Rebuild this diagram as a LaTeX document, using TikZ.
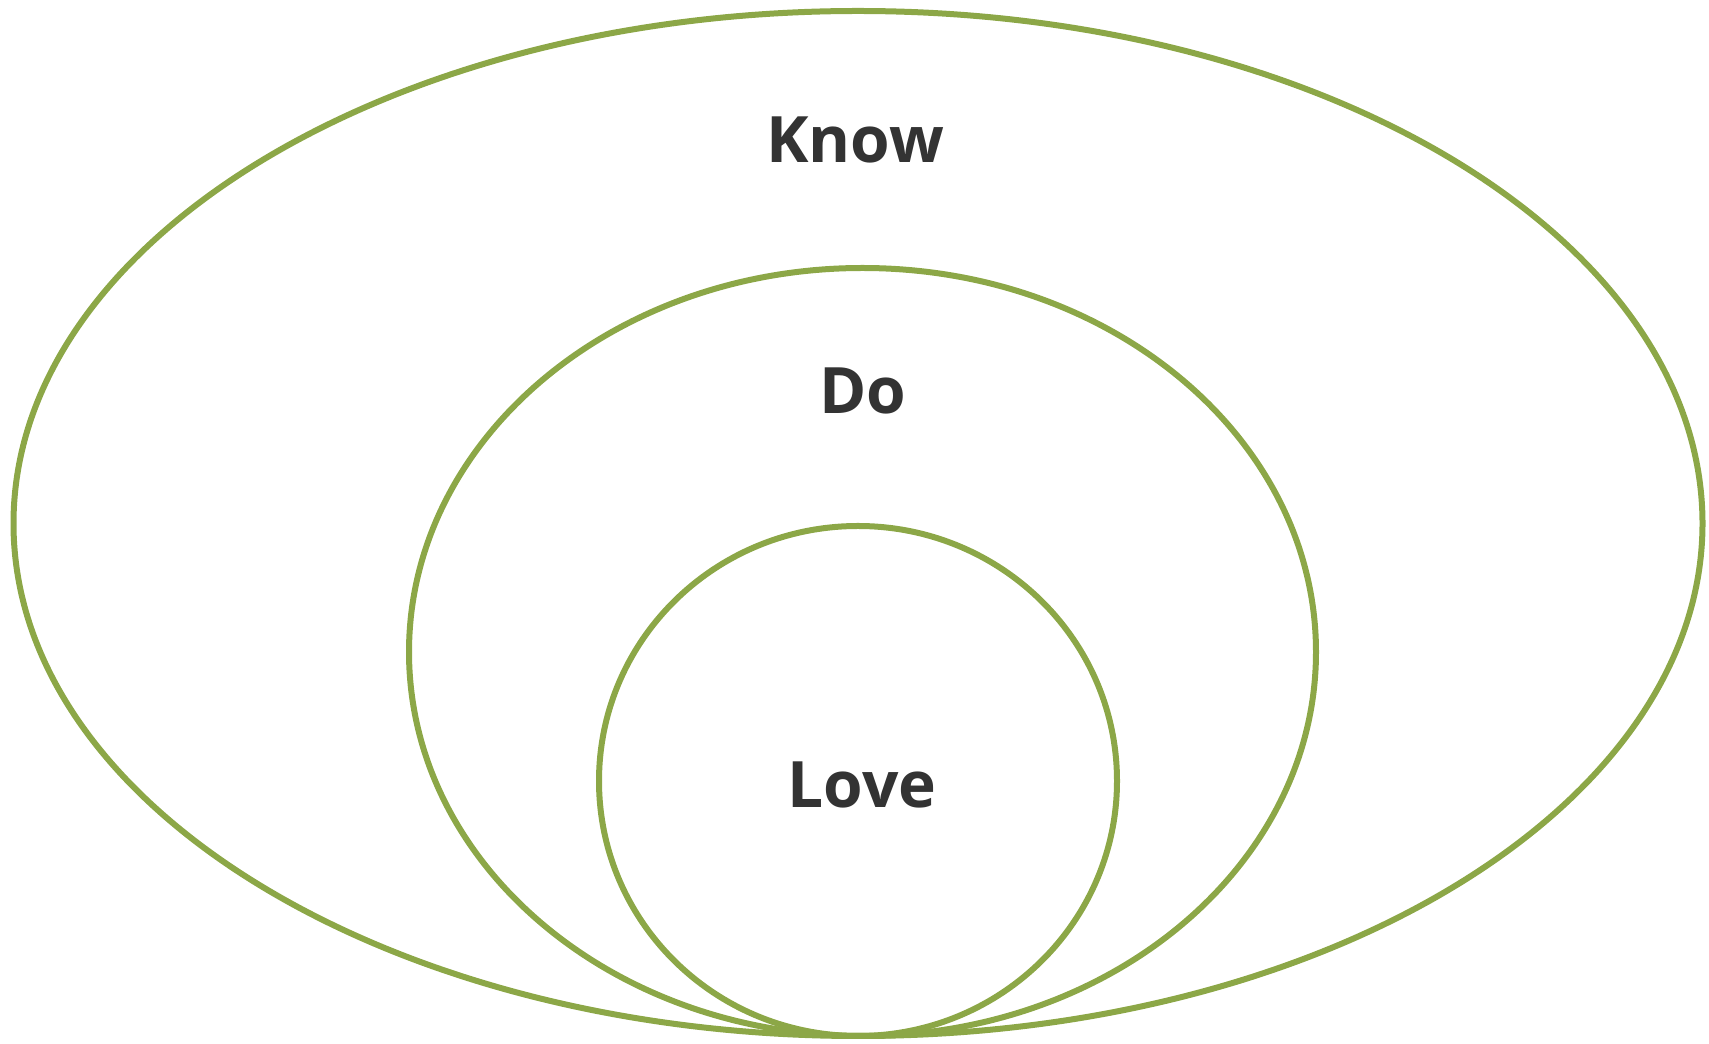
\documentclass[tikz,border=0pt]{standalone}
\usepackage{fontspec}
\setmainfont{Open Sans}
\usetikzlibrary{positioning}
\definecolor{ringgreen}{HTML}{8CA747}
\definecolor{labelgray}{HTML}{333333}

\begin{document}
\begin{tikzpicture}[x=0.5pt,y=0.5pt, ring/.style={draw=ringgreen,line width=3pt}, word/.style={font=\fontsize{32}{36}\selectfont\bfseries,text=labelgray,anchor=base,inner sep=0pt}]
\useasboundingbox (0,0) rectangle (1709,1044);
\draw[ring] (858,520.5) ellipse [x radius=844.5,y radius=512.5];
\draw[ring] (862.5,392) ellipse [x radius=453.5,y radius=384];
\draw[ring] (858,263) ellipse [x radius=259,y radius=255];
\node[word] (know) at (855,881) {Know};
\node[word] (do) at (863,630) {Do};
\node[word] (love) at (862,236) {Love};
\end{tikzpicture}
\end{document}
